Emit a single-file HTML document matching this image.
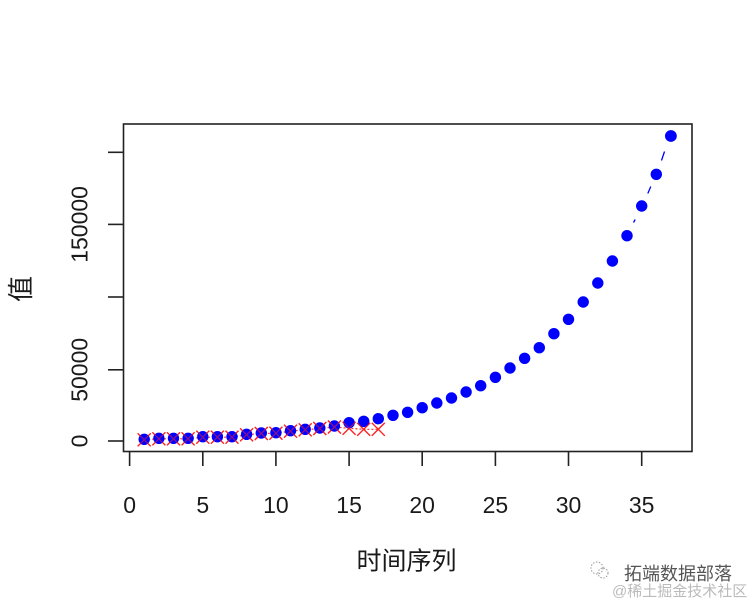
<!DOCTYPE html>
<html>
<head>
<meta charset="utf-8">
<style>
  html,body{margin:0;padding:0;background:#fff;}
  svg{display:block;}
  text{font-family:"Liberation Sans","Noto Sans CJK SC",sans-serif;fill:#1a1a1a;}
</style>
</head>
<body>
<svg width="756" height="606" viewBox="0 0 756 606" xmlns="http://www.w3.org/2000/svg">
  <rect x="0" y="0" width="756" height="606" fill="#fff"/>
  <!-- plot frame -->
  <rect x="123.5" y="124" width="568.5" height="327.5" fill="none" stroke="#222" stroke-width="1.6"/>
  <!-- y ticks -->
  <g stroke="#222" stroke-width="1.6">
    <line x1="108" y1="441" x2="123.5" y2="441"/>
    <line x1="108" y1="369.8" x2="123.5" y2="369.8"/>
    <line x1="108" y1="297" x2="123.5" y2="297"/>
    <line x1="108" y1="224.4" x2="123.5" y2="224.4"/>
    <line x1="108" y1="152.3" x2="123.5" y2="152.3"/>
  </g>
  <!-- y tick labels -->
  <g font-size="23" text-anchor="middle">
    <text transform="translate(87.5,441) rotate(-90)">0</text>
    <text transform="translate(87.5,369.8) rotate(-90)">50000</text>
    <text transform="translate(87.5,224.4) rotate(-90)">150000</text>
  </g>
  <!-- x ticks -->
  <g stroke="#222" stroke-width="1.6">
    <line x1="129.6" y1="451.5" x2="129.6" y2="466"/>
    <line x1="202.8" y1="451.5" x2="202.8" y2="466"/>
    <line x1="275.9" y1="451.5" x2="275.9" y2="466"/>
    <line x1="349.1" y1="451.5" x2="349.1" y2="466"/>
    <line x1="422.2" y1="451.5" x2="422.2" y2="466"/>
    <line x1="495.4" y1="451.5" x2="495.4" y2="466"/>
    <line x1="568.5" y1="451.5" x2="568.5" y2="466"/>
    <line x1="641.7" y1="451.5" x2="641.7" y2="466"/>
  </g>
  <g font-size="23" text-anchor="middle">
    <text x="129.6" y="513">0</text>
    <text x="202.8" y="513">5</text>
    <text x="275.9" y="513">10</text>
    <text x="349.1" y="513">15</text>
    <text x="422.2" y="513">20</text>
    <text x="495.4" y="513">25</text>
    <text x="568.5" y="513">30</text>
    <text x="641.7" y="513">35</text>
  </g>
  <!-- axis titles -->
  <text x="406.5" y="569.5" font-size="25" text-anchor="middle" font-family="Noto Sans CJK SC, sans-serif">时间序列</text>
  <text transform="translate(30,289) rotate(-90)" font-size="26" text-anchor="middle" font-family="Noto Sans CJK SC, sans-serif">值</text>

  <!-- blue dashed line: only sparse dashes visible between the last points -->
  <g stroke="#0000ff" stroke-width="1.3" fill="none">
    <line x1="633.5" y1="222.5" x2="635.2" y2="219.5"/>
    <line x1="647.8" y1="193.5" x2="650.8" y2="186.5"/>
    <line x1="661.5" y1="160.5" x2="664.5" y2="151.5"/>
  </g>
  <!-- red dotted line -->
  <polyline fill="none" stroke="#ff3030" stroke-width="1.2" stroke-dasharray="2,2"
    points="144.2,439.8 158.9,438.8 173.5,438.8 188.1,438.8 202.8,437.2 217.4,437.2 232.0,437.2 246.6,434.8 261.3,433.5 275.9,433.2 290.5,431.2 305.2,429.8 319.8,428.5 334.4,427 349.1,428.3 363.7,429.3 378.3,429.3"/>
  <!-- red x markers -->
  <g stroke="#ff2020" stroke-width="1.3" fill="none" id="xs">
    <path d="M137.7,433.3 l13,13 m0,-13 l-13,13"/>
    <path d="M152.4,432.3 l13,13 m0,-13 l-13,13"/>
    <path d="M167.0,432.3 l13,13 m0,-13 l-13,13"/>
    <path d="M181.6,432.3 l13,13 m0,-13 l-13,13"/>
    <path d="M196.3,430.7 l13,13 m0,-13 l-13,13"/>
    <path d="M210.9,430.7 l13,13 m0,-13 l-13,13"/>
    <path d="M225.5,430.7 l13,13 m0,-13 l-13,13"/>
    <path d="M240.1,428.3 l13,13 m0,-13 l-13,13"/>
    <path d="M254.8,427 l13,13 m0,-13 l-13,13"/>
    <path d="M269.4,426.7 l13,13 m0,-13 l-13,13"/>
    <path d="M284.0,424.7 l13,13 m0,-13 l-13,13"/>
    <path d="M298.7,423.3 l13,13 m0,-13 l-13,13"/>
    <path d="M313.3,422 l13,13 m0,-13 l-13,13"/>
    <path d="M327.9,420.5 l13,13 m0,-13 l-13,13"/>
    <path d="M342.6,421.8 l13,13 m0,-13 l-13,13"/>
    <path d="M357.2,422.8 l13,13 m0,-13 l-13,13"/>
    <path d="M371.8,422.8 l13,13 m0,-13 l-13,13"/>
  </g>
  <!-- blue dots -->
  <g fill="#0000ff">
    <circle cx="144.2" cy="439.3" r="5.7"/>
    <circle cx="158.9" cy="438.3" r="5.7"/>
    <circle cx="173.5" cy="438.3" r="5.7"/>
    <circle cx="188.1" cy="438.3" r="5.7"/>
    <circle cx="202.8" cy="436.7" r="5.7"/>
    <circle cx="217.4" cy="436.7" r="5.7"/>
    <circle cx="232.0" cy="436.7" r="5.7"/>
    <circle cx="246.6" cy="434.3" r="5.7"/>
    <circle cx="261.3" cy="433" r="5.7"/>
    <circle cx="275.9" cy="432.7" r="5.7"/>
    <circle cx="290.5" cy="430.7" r="5.7"/>
    <circle cx="305.2" cy="429.3" r="5.7"/>
    <circle cx="319.8" cy="428" r="5.7"/>
    <circle cx="334.4" cy="426" r="5.7"/>
    <circle cx="349.1" cy="422.7" r="5.7"/>
    <circle cx="363.7" cy="421.3" r="5.7"/>
    <circle cx="378.3" cy="418.7" r="5.7"/>
    <circle cx="393.0" cy="415.3" r="5.7"/>
    <circle cx="407.6" cy="412.3" r="5.7"/>
    <circle cx="422.2" cy="407.7" r="5.7"/>
    <circle cx="436.8" cy="403" r="5.7"/>
    <circle cx="451.5" cy="398" r="5.7"/>
    <circle cx="466.1" cy="392" r="5.7"/>
    <circle cx="480.7" cy="385.7" r="5.7"/>
    <circle cx="495.4" cy="377.3" r="5.7"/>
    <circle cx="510.0" cy="368" r="5.7"/>
    <circle cx="524.6" cy="358.3" r="5.7"/>
    <circle cx="539.3" cy="347.7" r="5.7"/>
    <circle cx="553.9" cy="333.7" r="5.7"/>
    <circle cx="568.5" cy="319.3" r="5.7"/>
    <circle cx="583.2" cy="302" r="5.7"/>
    <circle cx="597.8" cy="283" r="5.7"/>
    <circle cx="612.4" cy="261" r="5.7"/>
    <circle cx="627.0" cy="235.7" r="5.7"/>
    <circle cx="641.7" cy="206" r="5.7"/>
    <circle cx="656.3" cy="174.3" r="5.7"/>
    <circle cx="670.9" cy="136" r="5.9"/>
  </g>
  <!-- red x over dots (center marks visible) -->
  <use href="#xs" opacity="0.55"/>

  <!-- watermark -->
  <g fill="none" stroke="#999" stroke-width="1" stroke-dasharray="1.5,1.5">
    <circle cx="597" cy="568" r="6"/>
    <circle cx="603" cy="573" r="5"/>
  </g>
  <text x="624" y="580" font-size="18" font-family="Noto Sans CJK SC, sans-serif" style="fill:#555">拓端数据部落</text>
  <text x="612" y="596" font-size="15" font-family="Noto Sans CJK SC, sans-serif" style="fill:#bbb">@稀土掘金技术社区</text>
</svg>
</body>
</html>
